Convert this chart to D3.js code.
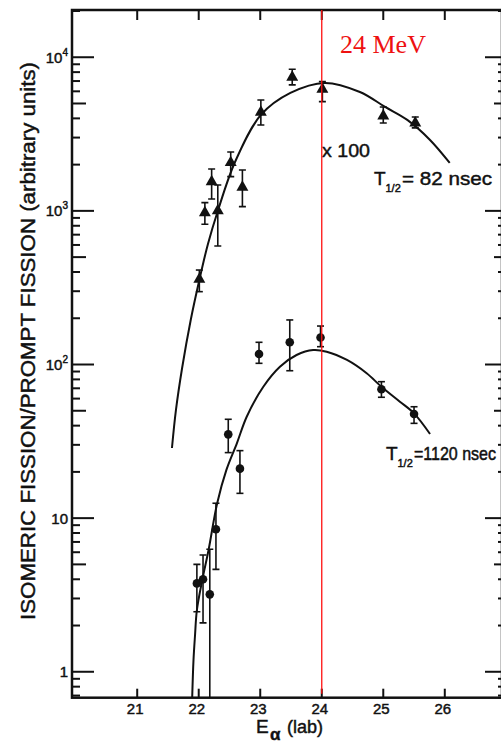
<!DOCTYPE html>
<html>
<head>
<meta charset="utf-8">
<script src="https://cdn.jsdelivr.net/npm/d3@7"></script>
<style>
  body { margin: 0; background: #fff; }
  svg { display: block; }
  text { font-family: "Liberation Sans", Arial, sans-serif; fill: #111; stroke: #111; stroke-width: 0.45px; }
  text.marker { font-family: "Liberation Serif", "Times New Roman", serif; fill: #ee1111; stroke: none; }
</style>
</head>
<body>
<svg id="chart" width="501" height="749"></svg>
<script>
// Isomer with T1/2 = 82 ns (values shown x100): alpha energy (MeV), ratio, error limits
const energy82    = [22.01, 22.10, 22.21, 22.31, 22.52, 22.71, 23.01, 23.52, 24.01, 25.00, 25.52];
const ratio82     = [359, 973, 1549, 1003, 2060, 1425, 4385, 7413, 6190, 4150, 3735];
const errHigh82   = [412, 1131, 1875, 1474, 2418, 1846, 5271, 8356, 6934, 4746, 4085];
const errLow82    = [298, 818, 1195, 591, 1670, 1065, 3625, 6604, 5140, 3733, 3467];

// Isomer with T1/2 = 1120 ns
const energy1120  = [21.97, 22.07, 22.18, 22.28, 22.48, 22.67, 22.98, 23.48, 23.98, 24.97, 25.50];
const ratio1120   = [3.76, 4.0, 3.19, 8.46, 35.1, 21.0, 117, 139.5, 150, 69, 47.6];
const errHigh1120 = [5.0, 5.75, 6.27, 12.5, 44, 27.5, 139.5, 195, 178, 77.3, 53.1];
const errLow1120  = [2.46, 2.08, 0.5, 4.64, 26.7, 14.5, 101.8, 91.1, 130.6, 61.2, 41.4];

// Calculated excitation functions drawn through the data
const fitEnergy82   = [21.565, 21.63, 21.73, 21.87, 22.01, 22.15, 22.31, 22.59, 23.01, 23.49, 24.05, 24.62, 25.03, 25.39, 25.76, 26.08];
const fitRatio82    = [28.6, 50.6, 94.9, 195, 355, 609, 998, 2081, 4210, 5858, 6808, 5943, 4748, 3908, 2895, 2050];
const fitEnergy1120 = [21.89, 21.915, 21.94, 21.97, 22.06, 22.16, 22.30, 22.45, 22.62, 22.78, 23.05, 23.32, 23.59, 23.86, 24.08, 24.41, 24.73, 24.97, 25.27, 25.50, 25.76];
const fitRatio1120  = [0.6, 1.19, 1.73, 2.52, 4.0, 6.2, 12.5, 20.6, 30.7, 45.7, 71.7, 96.8, 115.3, 124.3, 121.2, 107, 87.7, 71.7, 57.3, 48.1, 35.3];

// Axis ticks
const xTicks = [21, 22, 23, 24, 25, 26];
const yDecades = [1, 10, 100, 1000, 10000];
const yDecadeBase = ["1", "10", "10", "10", "10"];
const yDecadeExp  = ["", "", "2", "3", "4"];

// Beam energy marker
const markerEnergy = 24;
const markerLabel = "24 MeV";

const svg = d3.select("#chart");

const x = d3.scaleLinear().domain([19.94, 26.93]).range([72, 502]);
const y = d3.scaleLog().domain([0.678, 20300]).range([697.7, 10]);

const [x0, x1] = x.range();
const [yB, yT] = y.range();

svg.append("defs").append("clipPath").attr("id", "plot")
  .append("rect").attr("x", x0).attr("y", yT).attr("width", x1 - x0).attr("height", yB - yT);

// Frame
svg.append("rect")
  .attr("x", x0).attr("y", yT).attr("width", x1 - x0).attr("height", yB - yT)
  .attr("fill", "none").attr("stroke", "#111").attr("stroke-width", 2.5);

// Log ticks (left inward, right inward)
const [yMin, yMax] = y.domain();
const logTicks = [];
for (let e = -1; e <= 4; e++) {
  for (let k = 1; k <= 9; k++) {
    const v = k * Math.pow(10, e);
    if (v >= yMin && v <= yMax) logTicks.push({ v, k });
  }
}
const tickLenL = d => d.k === 1 ? 22 : (d.k === 5 ? 14 : 8);
const tickLenR = d => d.k === 1 ? 17 : (d.k === 5 ? 8 : 4);

svg.append("g").selectAll("line").data(logTicks).join("line")
  .attr("x1", x0).attr("x2", d => x0 + tickLenL(d))
  .attr("y1", d => y(d.v)).attr("y2", d => y(d.v))
  .attr("stroke", "#111").attr("stroke-width", 2);

svg.append("g").selectAll("line").data(logTicks).join("line")
  .attr("x1", x1).attr("x2", d => x1 - tickLenR(d))
  .attr("y1", d => y(d.v)).attr("y2", d => y(d.v))
  .attr("stroke", "#111").attr("stroke-width", 2);

// Energy ticks, top and bottom
svg.append("g").selectAll("line").data(xTicks).join("line")
  .attr("x1", d => x(d)).attr("x2", d => x(d))
  .attr("y1", yB).attr("y2", yB - 9)
  .attr("stroke", "#111").attr("stroke-width", 2);
svg.append("g").selectAll("line").data(xTicks).join("line")
  .attr("x1", d => x(d)).attr("x2", d => x(d))
  .attr("y1", yT).attr("y2", yT + 10)
  .attr("stroke", "#111").attr("stroke-width", 2);

// Tick labels
svg.append("g").selectAll("text").data(xTicks).join("text")
  .attr("x", d => x(d) - 2).attr("y", yB + 16)
  .attr("text-anchor", "middle").attr("font-size", 15)
  .text(d => d);

const yLab = svg.append("g").selectAll("text").data(yDecades).join("text")
  .attr("x", 68).attr("y", d => y(d) + 5.5)
  .attr("text-anchor", "end").attr("font-size", 15);
yLab.append("tspan").text((d, i) => yDecadeBase[i]);
yLab.append("tspan").attr("font-size", 10).attr("dy", -7).text((d, i) => yDecadeExp[i]);

// Axis titles
const xt = svg.append("text").attr("y", 733);
xt.append("tspan").attr("x", 256).attr("font-size", 19).text("E");
xt.append("tspan").attr("x", 270).attr("dy", 7).attr("font-size", 17).attr("font-weight", "bold").text("α");
xt.append("tspan").attr("x", 287).attr("dy", -7).attr("font-size", 18).text("(lab)");

svg.append("text")
  .attr("transform", "translate(35,341) rotate(-90)")
  .attr("text-anchor", "middle").attr("font-size", 21)
  .attr("textLength", 558).attr("lengthAdjust", "spacingAndGlyphs")
  .text("ISOMERIC FISSION/PROMPT FISSION (arbitrary units)");

// Plot contents
const plot = svg.append("g").attr("clip-path", "url(#plot)");

const line = d3.line()
  .x(d => x(d[0])).y(d => y(d[1]))
  .curve(d3.curveCatmullRom.alpha(0.5));

plot.append("path")
  .attr("d", line(d3.zip(fitEnergy82, fitRatio82)))
  .attr("fill", "none").attr("stroke", "#111").attr("stroke-width", 2);
plot.append("path")
  .attr("d", line(d3.zip(fitEnergy1120, fitRatio1120)))
  .attr("fill", "none").attr("stroke", "#111").attr("stroke-width", 2);

function errorBars(es, hi, lo) {
  const g = plot.append("g").attr("stroke", "#111").attr("stroke-width", 1.6);
  const rows = es.map((e, i) => ({ e, hi: hi[i], lo: lo[i] }));
  g.selectAll(".v").data(rows).join("line")
    .attr("x1", d => x(d.e)).attr("x2", d => x(d.e))
    .attr("y1", d => y(d.hi)).attr("y2", d => y(d.lo));
  g.selectAll(".h").data(rows).join("line")
    .attr("x1", d => x(d.e) - 3.5).attr("x2", d => x(d.e) + 3.5)
    .attr("y1", d => y(d.hi)).attr("y2", d => y(d.hi));
  g.selectAll(".l").data(rows.filter(d => d.lo > yMin)).join("line")
    .attr("x1", d => x(d.e) - 3.5).attr("x2", d => x(d.e) + 3.5)
    .attr("y1", d => y(d.lo)).attr("y2", d => y(d.lo));
}
errorBars(energy82, errHigh82, errLow82);
errorBars(energy1120, errHigh1120, errLow1120);

plot.append("g").selectAll("path").data(d3.zip(energy82, ratio82)).join("path")
  .attr("transform", d => `translate(${x(d[0])},${y(d[1])})`)
  .attr("d", d3.symbol(d3.symbolTriangle, 62))
  .attr("fill", "#111");

plot.append("g").selectAll("circle").data(d3.zip(energy1120, ratio1120)).join("circle")
  .attr("cx", d => x(d[0])).attr("cy", d => y(d[1])).attr("r", 4.3)
  .attr("fill", "#111");

// Annotations
svg.append("text").attr("x", 322).attr("y", 157).attr("font-size", 18)
  .attr("textLength", 48).attr("lengthAdjust", "spacingAndGlyphs").text("x 100");

// Half-life label: T, slanted-fraction subscript, then the value stretched vertically to 19px height
function halfLife(tx, ty, rest, size, restLen) {
  svg.append("text").attr("x", tx).attr("y", ty).attr("font-size", 19).text("T");
  svg.append("text").attr("x", tx + 11.5).attr("y", ty + 7).attr("font-size", 11).text("1/2");
  svg.append("text")
    .attr("transform", `translate(${tx + 28},${ty}) scale(1,${19 / size})`)
    .attr("font-size", size)
    .attr("textLength", restLen).attr("lengthAdjust", "spacingAndGlyphs").text(rest);
}
halfLife(374, 185, "= 82 nsec", 19, 90);
halfLife(386, 460, "=1120 nsec", 16, 82);

// Beam energy marker
svg.append("line")
  .attr("x1", x(markerEnergy)).attr("x2", x(markerEnergy))
  .attr("y1", yT).attr("y2", yB - 4)
  .attr("stroke", "#ff1010").attr("stroke-width", 1.3);
svg.append("text")
  .attr("class", "marker")
  .attr("x", 340).attr("y", 53)
  .attr("font-size", 26)
  .text(markerLabel);
</script>
</body>
</html>
